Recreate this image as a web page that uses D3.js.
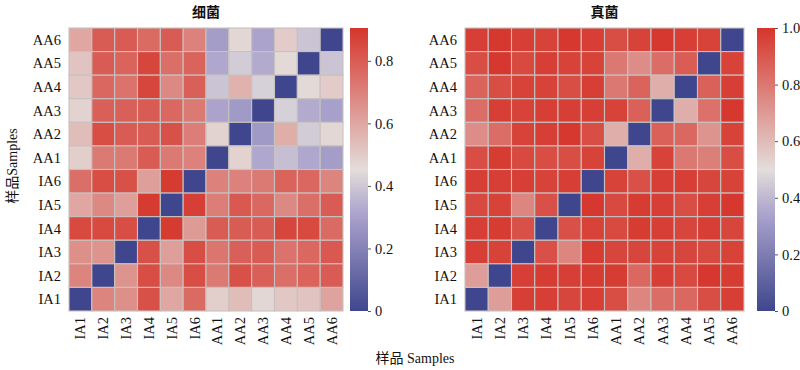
<!DOCTYPE html>
<html>
<head>
<meta charset="utf-8">
<script src="https://cdn.jsdelivr.net/npm/d3@7/dist/d3.min.js"></script>
<style>
  body {margin: 0; background: #fff;}
  text {font-family: 'Liberation Serif', 'DejaVu Serif', serif; fill: #111;}
  .cjk {font-family: 'Noto Sans CJK SC', sans-serif;}
</style>
</head>
<body>
<svg id="chart" width="800" height="370"></svg>
<script>
// column order, left to right
const samples = ['IA1', 'IA2', 'IA3', 'IA4', 'IA5', 'IA6',
  'AA1', 'AA2', 'AA3', 'AA4', 'AA5', 'AA6'];
// row order, top to bottom
const rowSamples = ['AA6', 'AA5', 'AA4', 'AA3', 'AA2', 'AA1',
  'IA6', 'IA5', 'IA4', 'IA3', 'IA2', 'IA1'];

// 细菌 dissimilarity, one array per row (rowSamples order)
const bacteria = [
  [0.60, 0.80, 0.80, 0.76, 0.80, 0.70, 0.29, 0.47, 0.31, 0.50, 0.39, 0.00],
  [0.52, 0.80, 0.78, 0.86, 0.75, 0.78, 0.32, 0.41, 0.33, 0.46, 0.00, 0.39],
  [0.51, 0.77, 0.74, 0.86, 0.68, 0.79, 0.39, 0.57, 0.42, 0.00, 0.46, 0.50],
  [0.48, 0.79, 0.79, 0.80, 0.77, 0.72, 0.31, 0.28, 0.00, 0.42, 0.33, 0.30],
  [0.54, 0.84, 0.80, 0.80, 0.83, 0.71, 0.48, 0.00, 0.28, 0.58, 0.41, 0.47],
  [0.49, 0.72, 0.72, 0.80, 0.72, 0.70, 0.00, 0.48, 0.32, 0.38, 0.32, 0.29],
  [0.75, 0.84, 0.83, 0.62, 0.89, 0.00, 0.70, 0.70, 0.72, 0.78, 0.77, 0.69],
  [0.60, 0.68, 0.62, 0.89, 0.00, 0.88, 0.71, 0.81, 0.77, 0.68, 0.75, 0.80],
  [0.85, 0.85, 0.84, 0.00, 0.89, 0.63, 0.80, 0.80, 0.80, 0.86, 0.85, 0.76],
  [0.66, 0.65, 0.00, 0.83, 0.62, 0.84, 0.73, 0.79, 0.80, 0.74, 0.77, 0.81],
  [0.69, 0.00, 0.65, 0.84, 0.68, 0.84, 0.72, 0.83, 0.79, 0.75, 0.78, 0.80],
  [0.00, 0.69, 0.66, 0.83, 0.60, 0.76, 0.49, 0.54, 0.47, 0.51, 0.52, 0.61],
];

// 真菌 dissimilarity, one array per row (rowSamples order)
const fungi = [
  [0.97, 0.99, 0.97, 0.96, 0.99, 0.97, 0.93, 0.96, 0.99, 0.97, 0.96, 0.00],
  [0.93, 0.99, 0.94, 0.97, 0.96, 0.96, 0.80, 0.74, 0.83, 0.88, 0.00, 0.96],
  [0.86, 0.93, 0.96, 0.96, 0.93, 0.97, 0.80, 0.86, 0.64, 0.00, 0.87, 0.97],
  [0.83, 0.97, 0.96, 0.97, 0.97, 0.97, 0.96, 0.87, 0.00, 0.64, 0.82, 0.99],
  [0.74, 0.83, 0.96, 0.97, 0.99, 0.93, 0.64, 0.00, 0.87, 0.85, 0.72, 0.96],
  [0.93, 0.98, 0.94, 0.93, 0.93, 0.96, 0.00, 0.64, 0.96, 0.80, 0.78, 0.93],
  [0.97, 0.97, 0.97, 0.96, 0.97, 0.00, 0.96, 0.92, 0.97, 0.97, 0.95, 0.96],
  [0.94, 0.96, 0.76, 0.92, 0.00, 0.99, 0.94, 0.98, 0.97, 0.93, 0.97, 0.99],
  [0.97, 0.98, 0.92, 0.00, 0.92, 0.96, 0.94, 0.98, 0.97, 0.95, 0.97, 0.95],
  [0.97, 0.96, 0.00, 0.92, 0.76, 0.98, 0.95, 0.95, 0.96, 0.95, 0.94, 0.96],
  [0.69, 0.00, 0.97, 0.98, 0.97, 0.98, 0.98, 0.85, 0.97, 0.94, 0.99, 0.98],
  [0.00, 0.69, 0.97, 0.97, 0.95, 0.97, 0.93, 0.76, 0.83, 0.85, 0.93, 0.97],
];

const bacteriaTicks = [0, 0.2, 0.4, 0.6, 0.8];
const fungiTicks = [0, 0.2, 0.4, 0.6, 0.8, 1.0];

// palette stops, as fractions of each map's maximum
const paletteStops = [0, 0.34, 0.5, 1];
const paletteColors = ['#3f468d', '#aaa2cc', '#e3dddb', '#d6352b'];

let svg = d3.select('#chart');

/**
* Draw one heatmap with its colour bar.
*/
function heatmap(opts) {
  const top = 28;
  const height = 283;
  let x = d3.scaleBand().domain(samples).range([opts.left, opts.left + opts.width]);
  let y = d3.scaleBand().domain(rowSamples).range([top, top + height]);
  let color = d3.scaleLinear()
    .domain(paletteStops.map(function(s) { return s * opts.max; }))
    .range(paletteColors)
    .interpolate(d3.interpolateRgb)
    .clamp(true);

  let cells = [];
  opts.data.forEach(function(row, i) {
    row.forEach(function(v, j) {
      cells.push({row: rowSamples[i], col: samples[j], value: v});
    });
  });

  let g = svg.append('g');

  g.selectAll('rect.cell').data(cells)
    .enter().append('rect')
      .attr('class', 'cell')
      .attr('x', function(d) { return x(d.col); })
      .attr('y', function(d) { return y(d.row); })
      .attr('width', x.bandwidth())
      .attr('height', y.bandwidth())
      .attr('fill', function(d) { return color(d.value); })
      .attr('stroke', '#c8c1c0')
      .attr('stroke-width', 1.1);

  // row labels
  g.selectAll('text.row').data(rowSamples)
    .enter().append('text')
      .attr('x', opts.left - 8)
      .attr('y', function(d) { return y(d) + y.bandwidth() / 2; })
      .attr('dy', '0.35em')
      .attr('text-anchor', 'end')
      .style('font-size', '14.5px')
      .text(function(d) { return d; });

  // column labels, rotated
  g.selectAll('text.col').data(samples)
    .enter().append('text')
      .attr('transform', function(d) {
        return 'translate(' + (x(d) + x.bandwidth() / 2) + ',' + (top + height + 6) + ') rotate(-90)';
      })
      .attr('dy', '0.35em')
      .attr('text-anchor', 'end')
      .style('font-size', '14.5px')
      .text(function(d) { return d; });

  // title
  g.append('text')
      .attr('class', 'cjk')
      .attr('x', opts.left + opts.width / 2)
      .attr('y', 17)
      .attr('text-anchor', 'middle')
      .style('font-size', '14px')
      .style('font-weight', 'bold')
      .text(opts.title);

  // colour bar
  const barX = opts.barX;
  const barW = 18;
  let barY = d3.scaleLinear().domain([0, opts.max]).range([top + height, top]);

  let grad = svg.append('defs').append('linearGradient')
      .attr('id', opts.id)
      .attr('x1', 0).attr('y1', 1).attr('x2', 0).attr('y2', 0);
  d3.range(0, 1.0001, 0.05).forEach(function(t) {
    grad.append('stop')
        .attr('offset', t)
        .attr('stop-color', color(t * opts.max));
  });

  g.append('rect')
      .attr('x', barX)
      .attr('y', top)
      .attr('width', barW)
      .attr('height', height)
      .attr('fill', 'url(#' + opts.id + ')');

  let axis = d3.axisRight(barY)
      .tickValues(opts.ticks)
      .tickSize(3)
      .tickPadding(4)
      .tickFormat(opts.format);

  let ax = g.append('g')
      .attr('transform', 'translate(' + (barX + barW) + ',0)')
      .call(axis);
  ax.select('.domain').remove();
  ax.selectAll('line').attr('stroke', '#555');
  ax.selectAll('text')
      .style('font-size', '14.5px')
      .style('font-family', "'Liberation Serif', serif");
}

heatmap({
  id: 'gradBacteria',
  title: '细菌',
  data: bacteria,
  max: 0.905,
  ticks: bacteriaTicks,
  format: function(d) { return d === 0 ? '0' : d3.format('.1f')(d); },
  left: 69,
  width: 274,
  barX: 350,
});

heatmap({
  id: 'gradFungi',
  title: '真菌',
  data: fungi,
  max: 1.0,
  ticks: fungiTicks,
  format: function(d) { return d === 0 ? '0' : d3.format('.1f')(d); },
  left: 465,
  width: 279,
  barX: 757,
});

// axis titles
let yTitle = svg.append('text')
    .attr('transform', 'translate(12,166) rotate(-90)')
    .attr('text-anchor', 'middle')
    .attr('dy', '0.35em')
    .style('font-size', '14px');
yTitle.append('tspan').attr('class', 'cjk').text('样品');
yTitle.append('tspan').text('Samples');

let xTitle = svg.append('text')
    .attr('x', 415)
    .attr('y', 363)
    .attr('text-anchor', 'middle')
    .style('font-size', '14px');
xTitle.append('tspan').attr('class', 'cjk').text('样品');
xTitle.append('tspan').text(' Samples');
</script>
</body>
</html>
